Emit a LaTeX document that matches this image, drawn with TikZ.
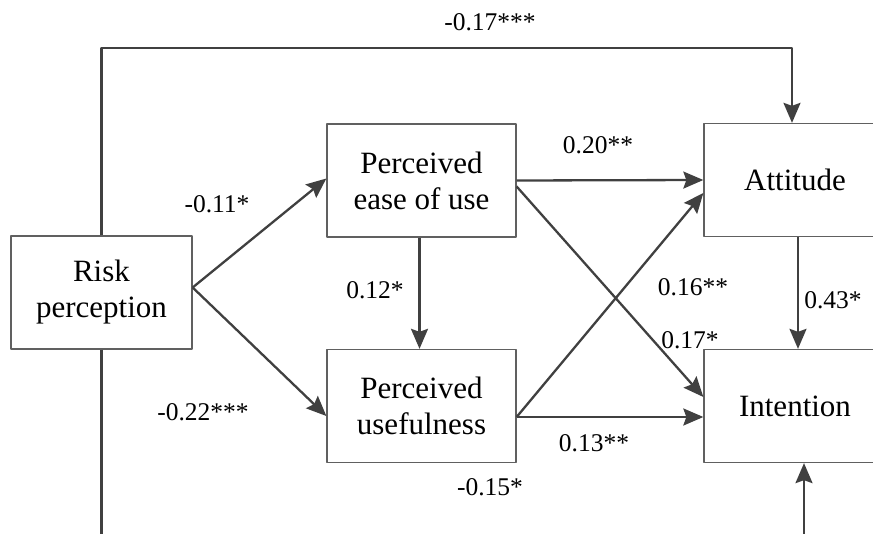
\documentclass[tikz,border=0pt]{standalone}
\usepackage{fontspec}
\setmainfont{Liberation Serif}
\newfontfamily\timesfont{Liberation Serif}
\usetikzlibrary{arrows.meta}
\definecolor{arrgray}{HTML}{404040}
\definecolor{boxgray}{HTML}{606060}

\begin{document}
\begin{tikzpicture}[x=0.5pt, y=-0.5pt, line join=round,
	box/.style={draw=boxgray, line width=0.65pt, minimum height=56.5pt, inner sep=0pt, align=center, font=\timesfont\fontsize{15.5}{18}\selectfont},
	lin/.style={draw=arrgray, line width=1.15pt},
	arr/.style={lin, -{Stealth[length=10pt,width=8.5pt,inset=1.5pt]}},
	lab/.style={inner sep=0pt, font=\timesfont\fontsize{12.75}{14}\selectfont}]
				\useasboundingbox (0,0) rectangle (873,534);
				\clip (0,0) rectangle (873,534);
				% constructs
				\node[box, minimum width=90.5pt] (risk) at (101.5,292.5) {Risk\\perception};
				\node[box, minimum width=94.5pt] (peou) at (421.5,180.5) {Perceived\\ease of use};
				\node[box, minimum width=94.5pt] (pu) at (421.5,406) {Perceived\\usefulness};
				\node[box, minimum width=91pt] (att) at (795,180) {Attitude};
				\node[box, minimum width=91pt] (int) at (795,406) {Intention};
				% paths
				\coordinate (topR) at (792,48);
				\coordinate (botL) at (101.5,545);
				\coordinate (botR) at (804,545);
				\draw[arr] (risk.north) |- (topR) -- (topR |- att.north);
				\draw[lin] (risk.south) -- (botL);
				\draw[arr] (botR) -- (botR |- int.south);
				\draw[arr] ([yshift=2.5pt]risk.east) -- ([yshift=1pt]peou.west);
				\draw[arr] ([yshift=2.5pt]risk.east) -- ([yshift=-5pt]pu.west);
				\draw[arr] ([xshift=-1pt]peou.south) -- ([xshift=-1pt]pu.north);
				\draw[arr] (peou.east) -- (att.west);
				\draw[arr] ([yshift=-3pt]peou.east) -- ([yshift=4.5pt]int.west);
				\draw[arr] ([yshift=-5.5pt]pu.east) -- ([yshift=-6.5pt]att.west);
				\draw[arr] ([yshift=-5.5pt]pu.east) -- ([yshift=-5.5pt]int.west);
				\draw[arr] ([xshift=1.5pt]att.south) -- ([xshift=1.5pt]int.north);
				% coefficients
				\node[lab] (l1) at (490,22) {-0.17***};
				\node[lab] (l2) at (217,204) {-0.11*};
				\node[lab] (l3) at (203,412) {-0.22***};
				\node[lab] (l4) at (375,290) {0.12*};
				\node[lab] (l5) at (598,145) {0.20**};
				\node[lab] (l6) at (693,287) {0.16**};
				\node[lab] (l7) at (690,340) {0.17*};
				\node[lab] (l8) at (833,300) {0.43*};
				\node[lab] (l9) at (594,443) {0.13**};
				\node[lab] (l10) at (490,487) {-0.15*};
			\end{tikzpicture}
\end{document}
